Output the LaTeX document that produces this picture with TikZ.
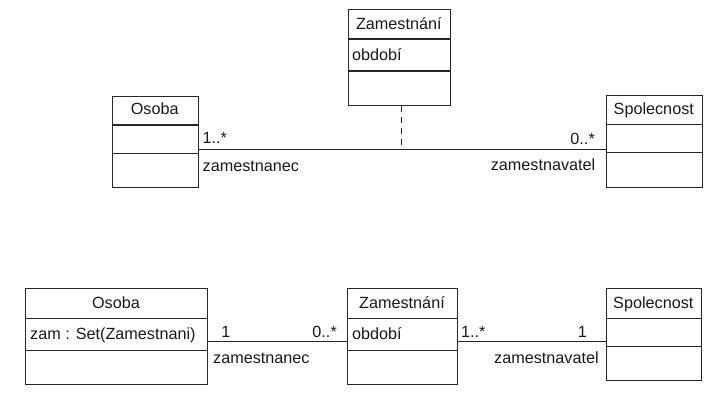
\documentclass[tikz,border=0pt]{standalone}
\usepackage{fontspec}
\setmainfont{Liberation Sans}
\begin{document}
\begin{tikzpicture}[x=1pt,y=-1pt,
  cls/.style={draw=black!85,line width=1.1pt,anchor=north west,inner sep=0pt,minimum width=#1},
  divl/.style={draw=black!85,line width=1.1pt},
  assoc/.style={draw=black!85,line width=1.1pt},
  lbl/.style={inner sep=0pt,font=\fontsize{16.2}{19}\selectfont,text=black!90}]
\useasboundingbox (0,0) rectangle (724,406);
% ---------- top diagram ----------
\node[cls=102.3pt,minimum height=95.7pt] (zt) at (347.7,9.3) {};
\draw[divl] (347.7,39) -- (450,39) (347.7,71) -- (450,71);
\node[lbl,anchor=base] (zttitle) at (398.8,29.3) {Zamestnání};
\node[lbl,anchor=base west] (ztattr) at (352,61) {období};

\node[cls=86pt,minimum height=91pt] (ot) at (111.7,95.7) {};
\draw[divl] (111.7,125) -- (197.7,125) (111.7,153.3) -- (197.7,153.3);
\node[lbl,anchor=base] (ottitle) at (154.7,115) {Osoba};

\node[cls=95.7pt,minimum height=92.3pt] (st) at (606,95) {};
\draw[divl] (606,124.3) -- (701.7,124.3) (606,152.7) -- (701.7,152.7);
\node[lbl,anchor=base] (sttitle) at (653.8,115) {Spolecnost};

\coordinate (lt) at (0,149.3);
\draw[assoc] (ot.east |- lt) -- (st.west |- lt);
\coordinate (dt) at (401.7,149.3);
\draw[assoc,dash pattern=on 6pt off 5pt] (zt.south -| dt) -- (dt);

\node[lbl,anchor=base west] (m1) at (202.5,143.5) {1..*};
\node[lbl,anchor=base west] (r1) at (202.5,171.7) {zamestnanec};
\node[lbl,anchor=base east] (m2) at (595,144.5) {0..*};
\node[lbl,anchor=base east] (r2) at (595.5,170.7) {zamestnavatel};

% ---------- bottom diagram ----------
\node[cls=181.4pt,minimum height=96pt] (ob) at (25.3,288.3) {};
\draw[divl] (25.3,318.3) -- (206.7,318.3) (25.3,350.3) -- (206.7,350.3);
\node[lbl,anchor=base] (obtitle) at (116,308.3) {Osoba};
\node[lbl,anchor=base west] (obattr) at (30,339.5) {zam : Set(Zamestnani)};

\node[cls=109.4pt,minimum height=96pt] (zb) at (347.3,288.3) {};
\draw[divl] (347.3,318.3) -- (456.7,318.3) (347.3,350.3) -- (456.7,350.3);
\node[lbl,anchor=base] (zbtitle) at (402,308.3) {Zamestnání};
\node[lbl,anchor=base west] (zbattr) at (352,339.5) {období};

\node[cls=95.3pt,minimum height=91.7pt] (sb) at (605.7,288.3) {};
\draw[divl] (605.7,318.3) -- (701,318.3) (605.7,346.7) -- (701,346.7);
\node[lbl,anchor=base] (sbtitle) at (653.3,308.3) {Spolecnost};

\coordinate (lb) at (0,341.6);
\draw[assoc] (ob.east |- lb) -- (zb.west |- lb);
\draw[assoc] (zb.east |- lb) -- (sb.west |- lb);

\node[lbl,anchor=base] (m3) at (226,337.3) {1};
\node[lbl,anchor=base east] (m4) at (337,337.3) {0..*};
\node[lbl,anchor=base west] (r3) at (213,363.3) {zamestnanec};
\node[lbl,anchor=base west] (m5) at (461,337.3) {1..*};
\node[lbl,anchor=base east] (m6) at (587,337.3) {1};
\node[lbl,anchor=base west] (r4) at (494,363.3) {zamestnavatel};
\end{tikzpicture}
\end{document}
